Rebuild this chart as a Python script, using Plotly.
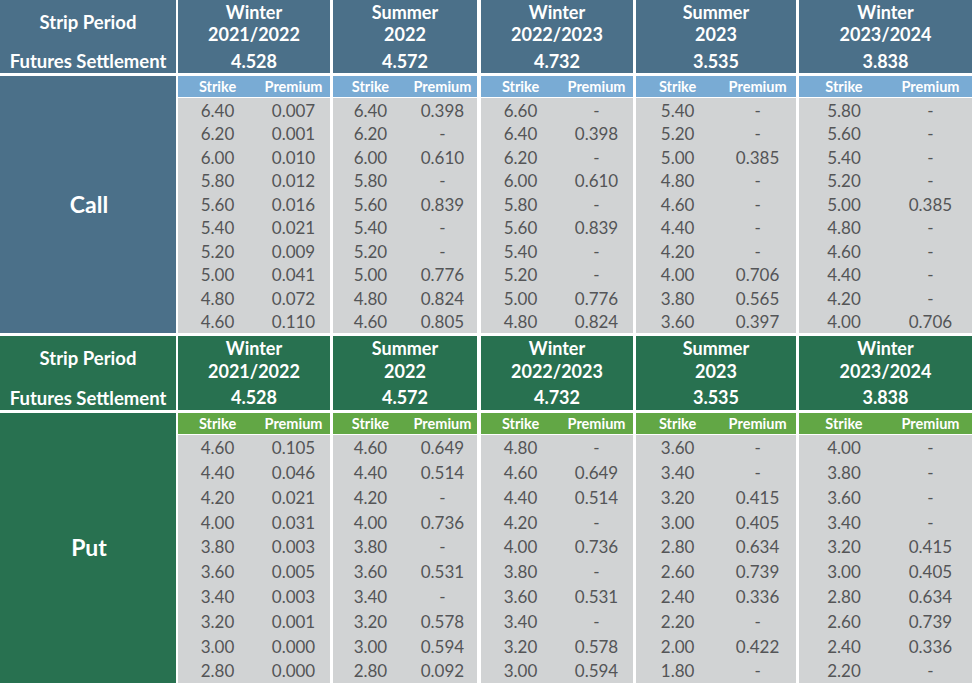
import plotly.graph_objects as go

# ---- data ----
periods = ["Winter<br>2021/2022", "Summer<br>2022", "Winter<br>2022/2023",
           "Summer<br>2023", "Winter<br>2023/2024"]
settlements = ["4.528", "4.572", "4.732", "3.535", "3.838"]

call_strikes = [
    ["6.40", "6.20", "6.00", "5.80", "5.60", "5.40", "5.20", "5.00", "4.80", "4.60"],
    ["6.40", "6.20", "6.00", "5.80", "5.60", "5.40", "5.20", "5.00", "4.80", "4.60"],
    ["6.60", "6.40", "6.20", "6.00", "5.80", "5.60", "5.40", "5.20", "5.00", "4.80"],
    ["5.40", "5.20", "5.00", "4.80", "4.60", "4.40", "4.20", "4.00", "3.80", "3.60"],
    ["5.80", "5.60", "5.40", "5.20", "5.00", "4.80", "4.60", "4.40", "4.20", "4.00"],
]
call_premiums = [
    ["0.007", "0.001", "0.010", "0.012", "0.016", "0.021", "0.009", "0.041", "0.072", "0.110"],
    ["0.398", "-", "0.610", "-", "0.839", "-", "-", "0.776", "0.824", "0.805"],
    ["-", "0.398", "-", "0.610", "-", "0.839", "-", "-", "0.776", "0.824"],
    ["-", "-", "0.385", "-", "-", "-", "-", "0.706", "0.565", "0.397"],
    ["-", "-", "-", "-", "0.385", "-", "-", "-", "-", "0.706"],
]
put_strikes = [
    ["4.60", "4.40", "4.20", "4.00", "3.80", "3.60", "3.40", "3.20", "3.00", "2.80"],
    ["4.60", "4.40", "4.20", "4.00", "3.80", "3.60", "3.40", "3.20", "3.00", "2.80"],
    ["4.80", "4.60", "4.40", "4.20", "4.00", "3.80", "3.60", "3.40", "3.20", "3.00"],
    ["3.60", "3.40", "3.20", "3.00", "2.80", "2.60", "2.40", "2.20", "2.00", "1.80"],
    ["4.00", "3.80", "3.60", "3.40", "3.20", "3.00", "2.80", "2.60", "2.40", "2.20"],
]
put_premiums = [
    ["0.105", "0.046", "0.021", "0.031", "0.003", "0.005", "0.003", "0.001", "0.000", "0.000"],
    ["0.649", "0.514", "-", "0.736", "-", "0.531", "-", "0.578", "0.594", "0.092"],
    ["-", "0.649", "0.514", "-", "0.736", "-", "0.531", "-", "0.578", "0.594"],
    ["-", "-", "0.415", "0.405", "0.634", "0.739", "0.336", "-", "0.422", "-"],
    ["-", "-", "-", "-", "0.415", "0.405", "0.634", "0.739", "0.336", "-"],
]

# ---- layout grid (pixel units on hidden axes) ----
W, H = 975, 686
LABEL_COL = (0, 176)
COLS = [(178, 330), (333, 477), (481, 633), (636, 796), (799, 972)]
FONT = "Lato"
TEXT_GREY = "#545557"
GREY = "#d1d3d4"
DY = 2.5  # text baseline nudge

sections = [
    dict(name="Call", strikes=call_strikes, premiums=call_premiums,
         head=(0, 73), sub=(76, 97), body=(98, 333),
         dark="#4b7089", light="#79abd4"),
    dict(name="Put", strikes=put_strikes, premiums=put_premiums,
         head=(336, 410), sub=(413, 434), body=(435, 683),
         dark="#287150", light="#62a745"),
]

fig = go.Figure()
shapes = []


def rect(x0, x1, y0, y1, color):
    shapes.append(dict(type="rect", xref="x", yref="y", x0=x0, x1=x1, y0=y0, y1=y1,
                       fillcolor=color, line=dict(width=0), layer="below"))


def text(xs, ys, labels, size, color, bold=False):
    fig.add_trace(go.Scatter(
        x=xs, y=[y + DY for y in ys], text=labels, mode="text", hoverinfo="skip",
        textfont=dict(family=FONT, size=size, color=color,
                      weight="bold" if bold else "normal"),
        showlegend=False,
    ))


for sec in sections:
    h0, h1 = sec["head"]
    s0, s1 = sec["sub"]
    b0, b1 = sec["body"]
    hh = h1 - h0
    lx = (LABEL_COL[0] + LABEL_COL[1]) / 2

    # left label column
    rect(LABEL_COL[0], LABEL_COL[1], h0, h1, sec["dark"])
    rect(LABEL_COL[0], LABEL_COL[1], s0, b1, sec["dark"])
    text([lx, lx], [h0 + 0.30 * hh, h0 + 0.83 * hh],
         ["Strip Period", "Futures Settlement"], 18.5, "white", bold=True)
    text([lx + 1], [(s0 + b1) / 2], [sec["name"]], 23, "white", bold=True)

    row_h = (b1 - b0) / 10
    for i, (c0, c1) in enumerate(COLS):
        w = c1 - c0
        cx = (c0 + c1) / 2
        sx = c0 + 0.26 * w
        px = c0 + 0.76 * w
        rect(c0, c1, h0, h1, sec["dark"])
        rect(c0, c1, s0, s1, sec["light"])
        rect(c0, c1, b0, b1, GREY)

        line1, line2 = periods[i].split("<br>")
        text([cx, cx, cx], [h0 + 0.16 * hh, h0 + 0.47 * hh, h0 + 0.83 * hh],
             [line1, line2, settlements[i]], 18, "white", bold=True)
        text([sx, px], [(s0 + s1) / 2 - 1] * 2, ["Strike", "Premium"], 14.5,
             "white", bold=True)

        ys = [b0 + (k + 0.5) * row_h for k in range(10)]
        text([sx] * 10, ys, sec["strikes"][i], 17, TEXT_GREY)
        text([px] * 10, ys, sec["premiums"][i], 17, TEXT_GREY)

fig.update_layout(
    width=W, height=H,
    margin=dict(l=0, r=0, t=0, b=0),
    paper_bgcolor="white", plot_bgcolor="white",
    shapes=shapes,
    xaxis=dict(range=[0, W], visible=False, fixedrange=True),
    yaxis=dict(range=[H, 0], visible=False, fixedrange=True),
)

fig.write_html("out.html", config={"displayModeBar": False},
               post_script="document.body.style.margin='0';")
